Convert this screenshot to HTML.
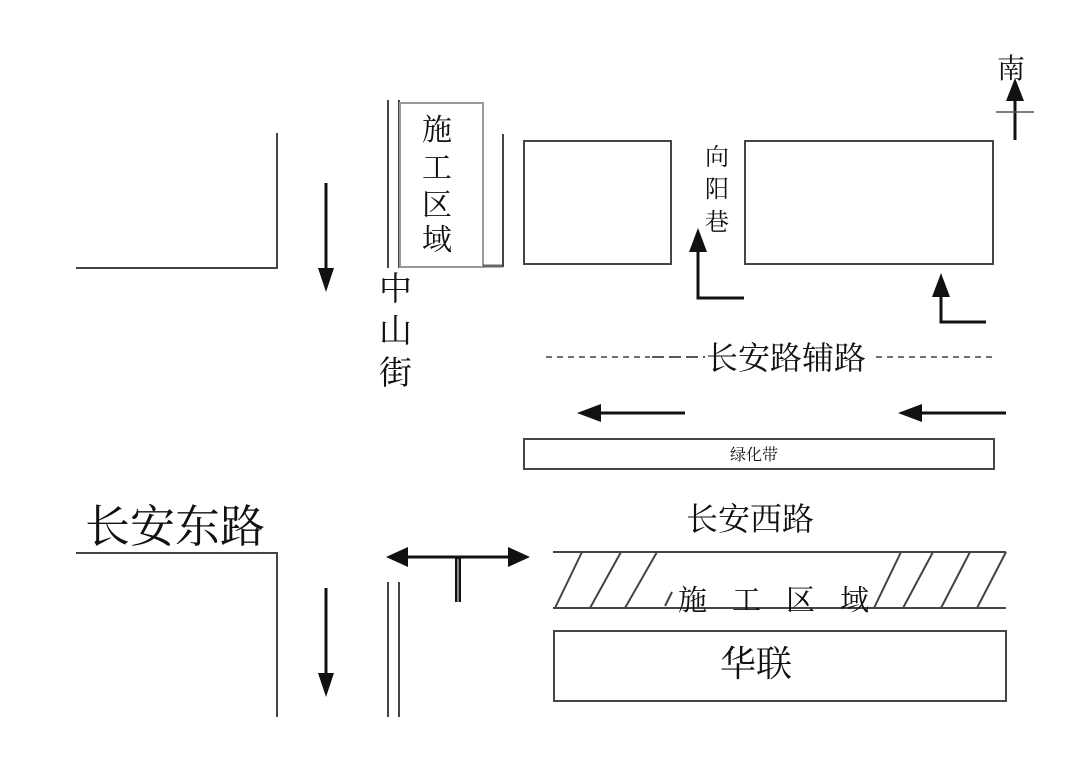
<!DOCTYPE html>
<html><head><meta charset="utf-8"><style>
html,body{margin:0;padding:0;background:#fff;}
svg{display:block;}
text{font-family:"Liberation Serif","Noto Serif CJK SC","Noto Sans CJK SC",serif;fill:#111;}
</style></head><body>
<svg width="1080" height="767" viewBox="0 0 1080 767" xmlns="http://www.w3.org/2000/svg">
<g stroke="#444" stroke-width="2" fill="none">
<polyline points="76,268 277,268 277,133"/>
<polyline points="76,553 277,553 277,717"/>
<line x1="388" y1="100" x2="388" y2="268"/>
<line x1="399" y1="100" x2="399" y2="268"/>
<rect x="400" y="103" width="83" height="164" stroke="#999"/>
<line x1="483" y1="266" x2="503" y2="266" stroke="#666" stroke-width="3"/>
<line x1="503" y1="134" x2="503" y2="267"/>
<line x1="388" y1="582" x2="388" y2="717"/>
<line x1="399" y1="582" x2="399" y2="717"/>
<rect x="524" y="141" width="147" height="123"/>
<rect x="745" y="141" width="248" height="123"/>
<rect x="524" y="439" width="470" height="30"/>
<line x1="553" y1="552" x2="1006" y2="552"/>
<line x1="553" y1="608" x2="1006" y2="608"/>
<line x1="555" y1="608" x2="582" y2="552"/>
<line x1="590" y1="608" x2="621" y2="552"/>
<line x1="625" y1="608" x2="657" y2="552"/>
<line x1="665" y1="606" x2="672" y2="592"/>
<line x1="874" y1="608" x2="901" y2="552"/>
<line x1="903" y1="608" x2="933" y2="552"/>
<line x1="941" y1="608" x2="970" y2="552"/>
<line x1="977" y1="608" x2="1006" y2="552"/>
<rect x="554" y="631" width="452" height="70"/>
</g>
<line x1="546" y1="357" x2="650" y2="357" stroke="#444" stroke-width="1.5" stroke-dasharray="6,5"/>
<line x1="652" y1="357" x2="705" y2="357" stroke="#222" stroke-width="1.5" stroke-dasharray="12,5"/>
<line x1="876" y1="357" x2="992" y2="357" stroke="#444" stroke-width="1.5" stroke-dasharray="6,5"/>
<g stroke="#111" stroke-width="3" fill="none">
<line x1="326" y1="183" x2="326" y2="272"/>
<line x1="326" y1="588" x2="326" y2="680"/>
<line x1="685" y1="413" x2="595" y2="413"/>
<line x1="1006" y1="413" x2="915" y2="413"/>
<polyline points="744,298 698,298 698,245"/>
<polyline points="986,322 941,322 941,292"/>
<line x1="1015" y1="140" x2="1015" y2="95"/>
<line x1="400" y1="557" x2="515" y2="557"/>
<line x1="458" y1="557" x2="458" y2="602" stroke-width="6"/>
<line x1="458" y1="559" x2="458" y2="602" stroke="#fff" stroke-width="1"/>
</g>
<g fill="#111">
<polygon points="326,292 318,268 334,268"/>
<polygon points="326,697 318,673 334,673"/>
<polygon points="577,413 601,404 601,422"/>
<polygon points="898,413 922,404 922,422"/>
<polygon points="698,228 689,252 707,252"/>
<polygon points="941,273 932,297 950,297"/>
<polygon points="1015,78 1006,101 1024,101"/>
<polygon points="386,557 408,547 408,567"/>
<polygon points="530,557 508,547 508,567"/>
</g>
<line x1="996" y1="112" x2="1034" y2="112" stroke="#555" stroke-width="1.5"/>
<text x="997" y="78" font-size="28">南</text>
<g font-size="30">
<text x="422" y="140">施</text><text x="422" y="178">工</text><text x="422" y="215">区</text><text x="422" y="250">域</text>
<text x="379" y="300" font-size="33">中</text><text x="379" y="342" font-size="33">山</text><text x="379" y="384" font-size="33">街</text>
</g>
<g font-size="24"><text x="705" y="165">向</text><text x="705" y="197">阳</text><text x="705" y="230">巷</text></g>
<text x="706" y="369" font-size="32">长安路辅路</text>
<text x="730" y="460" font-size="16">绿化带</text>
<text x="85" y="542" font-size="45">长安东路</text>
<text x="686" y="530" font-size="32">长安西路</text>
<text x="678" y="610" font-size="29" letter-spacing="25">施工区域</text>
<text x="720" y="676" font-size="36">华联</text>
</svg>
</body></html>
